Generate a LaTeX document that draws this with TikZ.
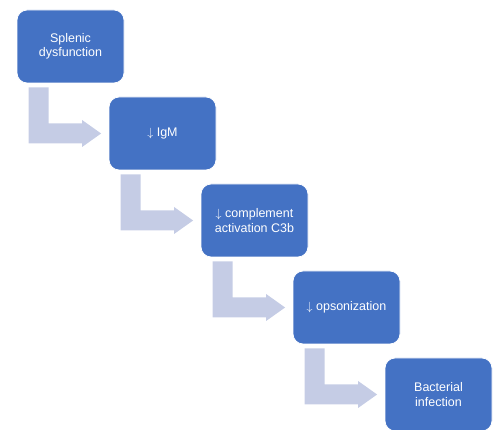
\documentclass[tikz,border=0pt]{standalone}
\usepackage{fontspec}
\setmainfont{Liberation Sans}
\usetikzlibrary{calc}
\definecolor{boxblue}{HTML}{4472C4}
\definecolor{arrowc}{HTML}{C5CCE5}
\tikzset{
  stepbox/.style={fill=boxblue, draw=white, line width=0.8pt, rounded corners=10pt,
    minimum width=107pt, minimum height=73pt, inner sep=2pt,
    text=white, align=center, font=\fontsize{12.5}{14.5}\selectfont},
}
\newcommand{\dnarr}{\raisebox{0.3pt}{$\downarrow$}}
\newcommand{\bentarrow}[2]{%
  \path[fill=arrowc] let \p1=(#1.south west), \p2=(#2.west) in
    (\x1+12pt,\y1-4pt) -- (\x1+32pt,\y1-4pt) -- (\x1+32pt,\y2+10pt)
    -- (\x2-26.5pt,\y2+10pt) -- (\x2-26.5pt,\y2+13.5pt) -- (\x2-7.5pt,\y2)
    -- (\x2-26.5pt,\y2-13.5pt) -- (\x2-26.5pt,\y2-10pt) -- (\x1+12pt,\y2-10pt) -- cycle;}
\begin{document}
\begin{tikzpicture}[x=1pt,y=1pt]
\useasboundingbox (0,0) rectangle (496,430);
\node[stepbox] (b1) at (70.5,383.5) {Splenic\\dysfunction};
\node[stepbox] (b2) at (162.5,296.5) {\dnarr\ IgM};
\node[stepbox] (b3) at (254.5,209.5) {\dnarr\ complement\\activation C3b};
\node[stepbox] (b4) at (346.5,122.5) {\dnarr\ opsonization};
\node[stepbox] (b5) at (438.5,35.5) {Bacterial\\infection};
\bentarrow{b1}{b2}
\bentarrow{b2}{b3}
\bentarrow{b3}{b4}
\bentarrow{b4}{b5}
\end{tikzpicture}
\end{document}
